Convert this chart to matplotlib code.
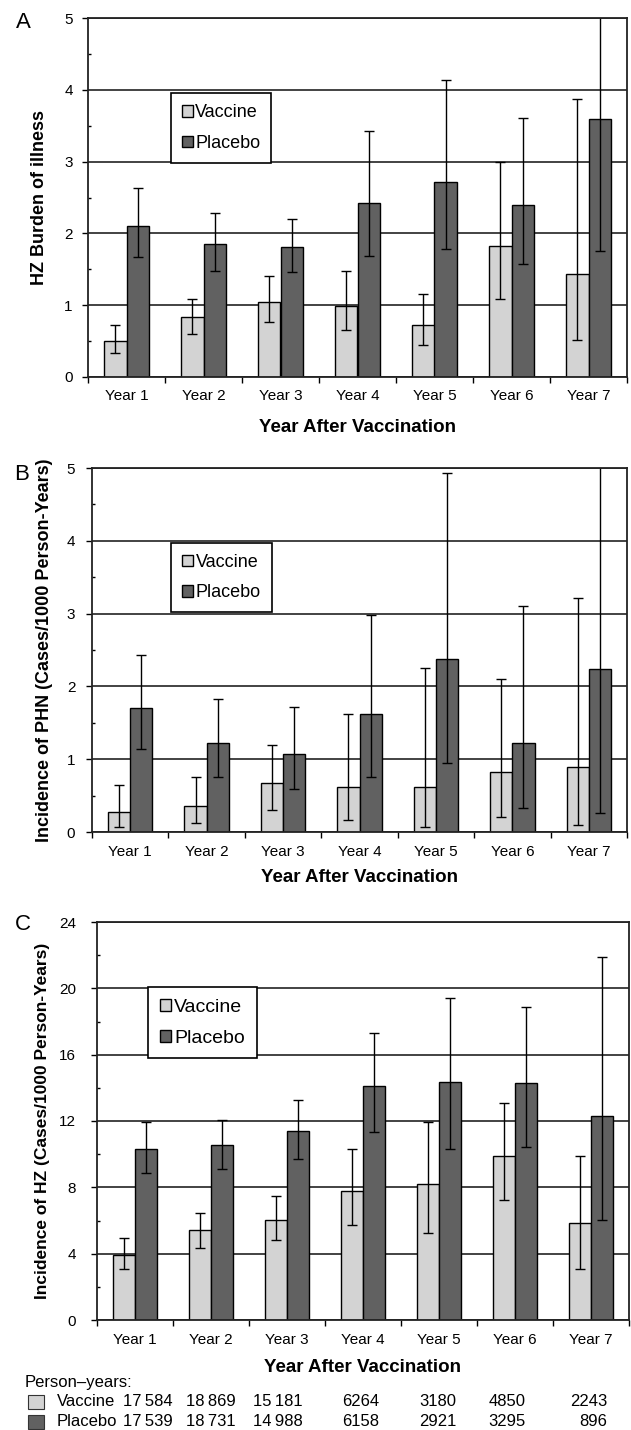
import numpy as np
import matplotlib
matplotlib.use("Agg")
import matplotlib.pyplot as plt
from matplotlib.ticker import MultipleLocator, FixedLocator

plt.rcParams['font.family'] = ['Liberation Sans', 'DejaVu Sans']

years = ["Year 1", "Year 2", "Year 3", "Year 4", "Year 5", "Year 6", "Year 7"]

# Panel A: HZ burden of illness
a_vac = [0.50, 0.84, 1.04, 0.99, 0.72, 1.82, 1.44]
a_vac_lo = [0.34, 0.60, 0.77, 0.66, 0.45, 1.09, 0.52]
a_vac_hi = [0.73, 1.09, 1.40, 1.48, 1.15, 2.99, 3.87]
a_pla = [2.11, 1.85, 1.81, 2.42, 2.71, 2.39, 3.59]
a_pla_lo = [1.67, 1.48, 1.46, 1.69, 1.78, 1.57, 1.75]
a_pla_hi = [2.63, 2.29, 2.20, 3.43, 4.14, 3.61, 5.80]

# Panel B: incidence of PHN
b_vac = [0.28, 0.36, 0.67, 0.62, 0.62, 0.82, 0.89]
b_vac_lo = [0.07, 0.13, 0.30, 0.17, 0.07, 0.20, 0.09]
b_vac_hi = [0.65, 0.76, 1.20, 1.62, 2.25, 2.10, 3.21]
b_pla = [1.71, 1.22, 1.07, 1.62, 2.38, 1.22, 2.24]
b_pla_lo = [1.14, 0.76, 0.59, 0.76, 0.95, 0.33, 0.26]
b_pla_hi = [2.43, 1.83, 1.72, 2.98, 4.93, 3.10, 6.00]

# Panel C: incidence of HZ
c_vac = [3.93, 5.44, 6.02, 7.79, 8.19, 9.87, 5.82]
c_vac_lo = [3.06, 4.37, 4.81, 5.74, 5.27, 7.23, 3.06]
c_vac_hi = [4.93, 6.48, 7.45, 10.31, 11.96, 13.07, 9.87]
c_pla = [10.31, 10.55, 11.40, 14.13, 14.35, 14.27, 12.28]
c_pla_lo = [8.84, 9.10, 9.70, 11.31, 10.31, 10.45, 6.02]
c_pla_hi = [11.96, 12.06, 13.25, 17.31, 19.41, 18.88, 21.88]

# Person-years table
py_vaccine = ["17\u2009584", "18\u2009869", "15\u2009181", "6264", "3180", "4850", "2243"]
py_placebo = ["17\u2009539", "18\u2009731", "14\u2009988", "6158", "2921", "3295", "896"]

VAC_COLOR = "#d3d3d3"
PLA_COLOR = "#616161"

W, H = 631, 1430
fig = plt.figure(figsize=(W / 100, H / 100), dpi=100)


def axes_px(left, right, top, bottom):
    return fig.add_axes([left / W, 1 - bottom / H, (right - left) / W, (bottom - top) / H])


def draw_panel(ax, vac, vlo, vhi, pla, plo, phi, ymax, ystep, yminor, ylabel,
               ylab_x, ytick_pad, legend_pos, legend_fs, labelspacing, xlab_y,
               ylab_fs=13):
    x = np.arange(len(years))
    bw = 0.29
    vac = np.array(vac); pla = np.array(pla)
    ax.bar(x - bw / 2, vac, bw, color=VAC_COLOR, edgecolor="black", linewidth=1.0,
           label="Vaccine", zorder=3)
    ax.bar(x + bw / 2, pla, bw, color=PLA_COLOR, edgecolor="black", linewidth=1.0,
           label="Placebo", zorder=3)
    ax.errorbar(x - bw / 2, vac, yerr=[vac - np.array(vlo), np.array(vhi) - vac],
                fmt="none", ecolor="black", elinewidth=1.0, capsize=3.5, capthick=1.0, zorder=4)
    ax.errorbar(x + bw / 2, pla, yerr=[pla - np.array(plo), np.array(phi) - pla],
                fmt="none", ecolor="black", elinewidth=1.0, capsize=3.5, capthick=1.0, zorder=4)
    ax.set_xlim(-0.5, len(years) - 0.5)
    ax.set_ylim(0, ymax)
    ax.yaxis.set_major_locator(MultipleLocator(ystep))
    ax.yaxis.set_minor_locator(MultipleLocator(yminor))
    ax.grid(axis="y", which="major", color="#222222", linewidth=1.2, zorder=1)
    for s in ax.spines.values():
        s.set_linewidth(1.3)
        s.set_color("#222222")
        s.set_zorder(5)
    ax.tick_params(axis="y", which="major", direction="out", length=4, width=1.0,
                   labelsize=11, pad=ytick_pad)
    ax.tick_params(axis="y", which="minor", direction="in", length=2.5, width=1.0)
    ax.set_xticks(x)
    ax.set_xticklabels(years)
    ax.xaxis.set_minor_locator(FixedLocator(np.arange(-0.5, len(years), 1.0)))
    ax.tick_params(axis="x", which="major", length=0, labelsize=11, pad=9)
    ax.tick_params(axis="x", which="minor", direction="out", length=4, width=1.0)
    ax.set_xlabel("Year After Vaccination", fontsize=13.5, fontweight="bold")
    ax.xaxis.set_label_coords(0.5, xlab_y)
    ax.xaxis.label.set_va("center")
    ax.set_ylabel(ylabel, fontsize=ylab_fs, fontweight="bold")
    ax.yaxis.set_label_coords(ylab_x, 0.5)
    ax.yaxis.label.set_va("center")
    leg = ax.legend(loc="upper left", bbox_to_anchor=legend_pos, fontsize=legend_fs,
                    frameon=True, fancybox=False, shadow=False, edgecolor="black",
                    framealpha=1.0, handlelength=0.6, handleheight=0.6,
                    handletextpad=0.15, labelspacing=labelspacing, borderpad=0.6,
                    borderaxespad=0.0)
    leg.get_frame().set_linewidth(1.2)
    leg.set_zorder(6)


# Panel A
axA = axes_px(88, 627, 18, 377)
draw_panel(axA, a_vac, a_vac_lo, a_vac_hi, a_pla, a_pla_lo, a_pla_hi,
           5, 1, 0.5, "HZ Burden of illness", -48 / 539, 7,
           (0.154, 0.79), 13, 0.75, -50 / 359)

# Panel B
axB = axes_px(92, 627, 468, 832)
draw_panel(axB, b_vac, b_vac_lo, b_vac_hi, b_pla, b_pla_lo, b_pla_hi,
           5, 1, 0.5, "Incidence of PHN (Cases/1000 Person-Years)", -47 / 535, 8,
           (0.148, 0.794), 13, 0.75, -45 / 364)

# Panel C
axC = axes_px(97, 629, 922, 1320)
draw_panel(axC, c_vac, c_vac_lo, c_vac_hi, c_pla, c_pla_lo, c_pla_hi,
           24, 4, 2, "Incidence of HZ (Cases/1000 Person-Years)", -54 / 532, 11,
           (0.096, 0.837), 14, 0.72, -48 / 398, ylab_fs=12.5)

# Panel letters
for letter, (px, py) in zip("ABC", [(23, 22), (22, 475), (23, 925)]):
    fig.text(px / W, 1 - py / H, letter, fontsize=16, ha="center", va="center")

# Person-years table
fig.text(25 / W, 1 - 1383 / H, "Person\u2013years:", fontsize=12, ha="left", va="center")
row_y = [1402, 1422]
row_names = ["Vaccine", "Placebo"]
row_colors = [VAC_COLOR, PLA_COLOR]
row_vals = [py_vaccine, py_placebo]
col_right = [173, 236, 303, 379, 456, 526, 607]
for name, color, vals, ry in zip(row_names, row_colors, row_vals, row_y):
    fig.patches.append(plt.Rectangle((28 / W, 1 - (ry + 7) / H), 16 / W, 14 / H,
                                     transform=fig.transFigure, facecolor=color,
                                     edgecolor="#333333", linewidth=0.8))
    fig.text(57 / W, 1 - ry / H, name, fontsize=12, ha="left", va="center")
    for v, cx in zip(vals, col_right):
        fig.text(cx / W, 1 - ry / H, v, fontsize=12, ha="right", va="center")

fig.savefig("out.png", dpi=100)
